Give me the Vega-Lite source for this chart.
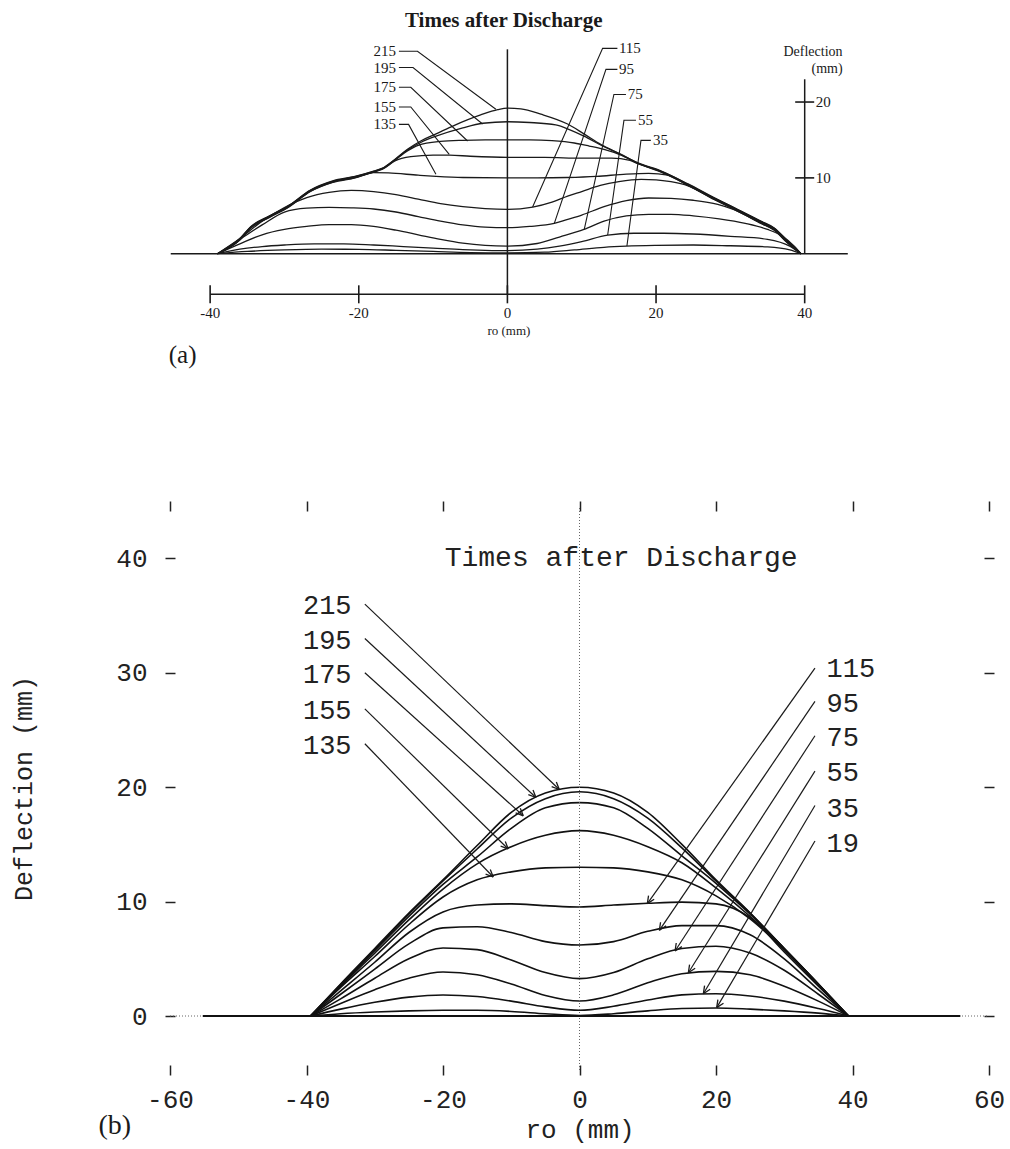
{
"$schema": "https://vega.github.io/schema/vega-lite/v6.json",
"background": "white",
"padding": {"left": 11, "top": 5, "right": 5, "bottom": 3},
"bounds": "flush",
"spacing": 135,
"config": {"view": {"stroke": "transparent"}, "font": "Liberation Mono"},
"datasets": {
"a_rules": [
{"x": -45.3, "y": 0, "ex": 45.8, "ey": 0},
{"x": 0, "y": -5.35, "ex": 0, "ey": 26.95},
{"x": -40, "y": -5.35, "ex": 40, "ey": -5.35},
{"x": 40, "y": 0, "ex": 40, "ey": 23.0}
],
"a_xticks": [
{"x": -40, "y": -5.35, "label": "-40"},
{"x": -20, "y": -5.35, "label": "-20"},
{"x": 0, "y": -5.35, "label": "0"},
{"x": 20, "y": -5.35, "label": "20"},
{"x": 40, "y": -5.35, "label": "40"}
],
"a_yticks": [
{"x": 40, "y": 10, "label": "10"},
{"x": 40, "y": 20, "label": "20"}
],
"a_labels": [
{"t": "215", "x": -15.0, "y": 26.7, "side": "L"},
{"t": "195", "x": -15.0, "y": 24.55, "side": "L"},
{"t": "175", "x": -15.0, "y": 21.95, "side": "L"},
{"t": "155", "x": -15.0, "y": 19.35, "side": "L"},
{"t": "135", "x": -15.0, "y": 17.05, "side": "L"},
{"t": "115", "x": 15.0, "y": 27.08, "side": "R"},
{"t": "95", "x": 15.0, "y": 24.31, "side": "R"},
{"t": "75", "x": 16.2, "y": 21.0, "side": "R"},
{"t": "55", "x": 17.56, "y": 17.59, "side": "R"},
{"t": "35", "x": 19.58, "y": 14.95, "side": "R"}
],
"a_leaders": [
{"t": "215", "k": 0, "x": -14.6, "y": 26.7}, {"t": "215", "k": 1, "x": -12.1, "y": 26.7}, {"t": "215", "k": 2, "x": -1.55, "y": 19.04},
{"t": "195", "k": 0, "x": -14.6, "y": 24.55}, {"t": "195", "k": 1, "x": -12.7, "y": 24.55}, {"t": "195", "k": 2, "x": -3.34, "y": 17.1},
{"t": "175", "k": 0, "x": -14.6, "y": 21.95}, {"t": "175", "k": 1, "x": -13.0, "y": 21.95}, {"t": "175", "k": 2, "x": -5.36, "y": 14.86},
{"t": "155", "k": 0, "x": -14.6, "y": 19.35}, {"t": "155", "k": 1, "x": -13.0, "y": 19.35}, {"t": "155", "k": 2, "x": -7.83, "y": 13.1},
{"t": "135", "k": 0, "x": -14.6, "y": 17.05}, {"t": "135", "k": 1, "x": -13.3, "y": 17.05}, {"t": "135", "k": 2, "x": -9.62, "y": 10.47},
{"t": "115", "k": 0, "x": 14.8, "y": 27.08}, {"t": "115", "k": 1, "x": 12.81, "y": 27.08}, {"t": "115", "k": 2, "x": 3.39, "y": 6.16},
{"t": "95", "k": 0, "x": 14.8, "y": 24.31}, {"t": "95", "k": 1, "x": 13.26, "y": 24.31}, {"t": "95", "k": 2, "x": 6.3, "y": 3.96},
{"t": "75", "k": 0, "x": 15.95, "y": 21.0}, {"t": "75", "k": 1, "x": 14.33, "y": 21.0}, {"t": "75", "k": 2, "x": 10.34, "y": 3.22},
{"t": "55", "k": 0, "x": 17.3, "y": 17.59}, {"t": "55", "k": 1, "x": 15.68, "y": 17.59}, {"t": "55", "k": 2, "x": 13.49, "y": 2.47},
{"t": "35", "k": 0, "x": 19.3, "y": 14.95}, {"t": "35", "k": 1, "x": 17.97, "y": 14.95}, {"t": "35", "k": 2, "x": 16.08, "y": 1.02}
],
"a_curves": [
{"t":"215","x":-39,"y":0},{"t":"215","x":-36,"y":2.0},{"t":"215","x":-34.5,"y":3.6},{"t":"215","x":-32,"y":5.0},{"t":"215","x":-29.5,"y":6.3},{"t":"215","x":-26.5,"y":8.4},{"t":"215","x":-23.5,"y":9.6},{"t":"215","x":-20.5,"y":10.2},{"t":"215","x":-18,"y":10.9},{"t":"215","x":-16.8,"y":11.3},{"t":"215","x":-15.2,"y":12.4},{"t":"215","x":-13.4,"y":13.8},{"t":"215","x":-11.6,"y":14.9},{"t":"215","x":-9.6,"y":15.8},{"t":"215","x":-7.2,"y":16.9},{"t":"215","x":-3.6,"y":18.3},{"t":"215","x":-1.3,"y":19.0},{"t":"215","x":0,"y":19.2},{"t":"215","x":1.8,"y":19.1},{"t":"215","x":4.5,"y":18.4},{"t":"215","x":8.1,"y":17.1},{"t":"215","x":10.3,"y":15.8},{"t":"215","x":12.6,"y":14.4},{"t":"215","x":15.3,"y":13.1},{"t":"215","x":17.5,"y":12.0},{"t":"215","x":20.7,"y":10.9},{"t":"215","x":24.3,"y":9.2},{"t":"215","x":27.8,"y":7.4},{"t":"215","x":30.5,"y":6.1},{"t":"215","x":34.1,"y":4.3},{"t":"215","x":35.9,"y":3.4},{"t":"215","x":37.7,"y":1.7},{"t":"215","x":39.5,"y":0},
{"t":"195","x":-39,"y":0},{"t":"195","x":-36,"y":1.95},{"t":"195","x":-34.5,"y":3.55},{"t":"195","x":-32,"y":4.95},{"t":"195","x":-29.5,"y":6.25},{"t":"195","x":-26.5,"y":8.35},{"t":"195","x":-23.5,"y":9.55},{"t":"195","x":-20.5,"y":10.15},{"t":"195","x":-18,"y":10.85},{"t":"195","x":-16.8,"y":11.25},{"t":"195","x":-15.2,"y":12.35},{"t":"195","x":-13.4,"y":13.7},{"t":"195","x":-11.6,"y":14.7},{"t":"195","x":-9.6,"y":15.5},{"t":"195","x":-6,"y":16.6},{"t":"195","x":-3.3,"y":17.2},{"t":"195","x":0,"y":17.4},{"t":"195","x":3,"y":17.3},{"t":"195","x":6.5,"y":17.0},{"t":"195","x":8.5,"y":16.3},{"t":"195","x":10.3,"y":15.5},{"t":"195","x":12.6,"y":14.3},{"t":"195","x":15.3,"y":13.05},{"t":"195","x":17.5,"y":11.95},{"t":"195","x":20.7,"y":10.85},{"t":"195","x":24.3,"y":9.15},{"t":"195","x":27.8,"y":7.35},{"t":"195","x":30.5,"y":6.05},{"t":"195","x":34.1,"y":4.25},{"t":"195","x":35.9,"y":3.35},{"t":"195","x":37.7,"y":1.65},{"t":"195","x":39.5,"y":0},
{"t":"175","x":-39,"y":0},{"t":"175","x":-36,"y":1.9},{"t":"175","x":-34.5,"y":3.5},{"t":"175","x":-32,"y":4.9},{"t":"175","x":-29.5,"y":6.2},{"t":"175","x":-26.5,"y":8.3},{"t":"175","x":-23.5,"y":9.5},{"t":"175","x":-20.5,"y":10.1},{"t":"175","x":-18,"y":10.8},{"t":"175","x":-16.8,"y":11.2},{"t":"175","x":-15.2,"y":12.3},{"t":"175","x":-13.4,"y":13.6},{"t":"175","x":-12,"y":14.3},{"t":"175","x":-9,"y":14.8},{"t":"175","x":-6,"y":14.95},{"t":"175","x":-3,"y":15.0},{"t":"175","x":0,"y":15.0},{"t":"175","x":3,"y":15.0},{"t":"175","x":6,"y":14.9},{"t":"175","x":9,"y":14.6},{"t":"175","x":11,"y":14.2},{"t":"175","x":13,"y":13.75},{"t":"175","x":15.3,"y":13.0},{"t":"175","x":17.5,"y":11.95},{"t":"175","x":20.7,"y":10.8},{"t":"175","x":24.3,"y":9.1},{"t":"175","x":27.8,"y":7.3},{"t":"175","x":30.5,"y":6.0},{"t":"175","x":34.1,"y":4.2},{"t":"175","x":35.9,"y":3.3},{"t":"175","x":37.7,"y":1.6},{"t":"175","x":39.5,"y":0},
{"t":"155","x":-39,"y":0},{"t":"155","x":-36,"y":1.85},{"t":"155","x":-34.5,"y":3.45},{"t":"155","x":-32,"y":4.85},{"t":"155","x":-29.5,"y":6.15},{"t":"155","x":-26.5,"y":8.25},{"t":"155","x":-23.5,"y":9.45},{"t":"155","x":-20.5,"y":10.05},{"t":"155","x":-18,"y":10.75},{"t":"155","x":-16.8,"y":11.15},{"t":"155","x":-15.2,"y":12.2},{"t":"155","x":-13,"y":12.8},{"t":"155","x":-10,"y":13.0},{"t":"155","x":-7.8,"y":13.0},{"t":"155","x":-5,"y":12.85},{"t":"155","x":0,"y":12.7},{"t":"155","x":5,"y":12.7},{"t":"155","x":10,"y":12.6},{"t":"155","x":14,"y":12.6},{"t":"155","x":16.5,"y":12.3},{"t":"155","x":17.5,"y":11.9},{"t":"155","x":20.7,"y":10.75},{"t":"155","x":24.3,"y":9.05},{"t":"155","x":27.8,"y":7.25},{"t":"155","x":30.5,"y":5.95},{"t":"155","x":34.1,"y":4.15},{"t":"155","x":35.9,"y":3.25},{"t":"155","x":37.7,"y":1.55},{"t":"155","x":39.5,"y":0},
{"t":"135","x":-39,"y":0},{"t":"135","x":-36,"y":1.8},{"t":"135","x":-34.5,"y":3.4},{"t":"135","x":-32,"y":4.8},{"t":"135","x":-29.5,"y":6.1},{"t":"135","x":-26.5,"y":8.2},{"t":"135","x":-23.5,"y":9.4},{"t":"135","x":-20.5,"y":10.0},{"t":"135","x":-18,"y":10.7},{"t":"135","x":-16,"y":10.65},{"t":"135","x":-12,"y":10.35},{"t":"135","x":-9.6,"y":10.2},{"t":"135","x":-6,"y":10.05},{"t":"135","x":0,"y":10.0},{"t":"135","x":4,"y":10.0},{"t":"135","x":8,"y":10.05},{"t":"135","x":12,"y":10.2},{"t":"135","x":16,"y":10.5},{"t":"135","x":19,"y":10.6},{"t":"135","x":21.6,"y":10.35},{"t":"135","x":24.3,"y":9.0},{"t":"135","x":27.8,"y":7.2},{"t":"135","x":30.5,"y":5.9},{"t":"135","x":34.1,"y":4.1},{"t":"135","x":35.9,"y":3.2},{"t":"135","x":37.7,"y":1.5},{"t":"135","x":39.5,"y":0},
{"t":"115","x":-39,"y":0},{"t":"115","x":-36,"y":2.0},{"t":"115","x":-33,"y":4.3},{"t":"115","x":-30,"y":6.1},{"t":"115","x":-27,"y":7.4},{"t":"115","x":-24,"y":8.1},{"t":"115","x":-21,"y":8.35},{"t":"115","x":-18,"y":8.2},{"t":"115","x":-15,"y":7.8},{"t":"115","x":-12,"y":7.2},{"t":"115","x":-9,"y":6.6},{"t":"115","x":-6,"y":6.2},{"t":"115","x":-3,"y":5.95},{"t":"115","x":0,"y":5.85},{"t":"115","x":3.4,"y":6.15},{"t":"115","x":6,"y":6.8},{"t":"115","x":8.1,"y":7.6},{"t":"115","x":10,"y":8.2},{"t":"115","x":12.5,"y":9.0},{"t":"115","x":15,"y":9.5},{"t":"115","x":18,"y":9.8},{"t":"115","x":20,"y":9.75},{"t":"115","x":22,"y":9.5},{"t":"115","x":24.3,"y":8.95},{"t":"115","x":27.8,"y":7.15},{"t":"115","x":30.5,"y":5.85},{"t":"115","x":34.1,"y":4.05},{"t":"115","x":35.9,"y":3.15},{"t":"115","x":37.7,"y":1.45},{"t":"115","x":39.5,"y":0},
{"t":"95","x":-39,"y":0},{"t":"95","x":-36.3,"y":1.7},{"t":"95","x":-33,"y":3.8},{"t":"95","x":-30,"y":5.5},{"t":"95","x":-27,"y":6.0},{"t":"95","x":-24,"y":6.1},{"t":"95","x":-21,"y":6.05},{"t":"95","x":-18,"y":5.9},{"t":"95","x":-15,"y":5.5},{"t":"95","x":-12,"y":4.9},{"t":"95","x":-9,"y":4.3},{"t":"95","x":-6,"y":3.8},{"t":"95","x":-3,"y":3.5},{"t":"95","x":0,"y":3.43},{"t":"95","x":3,"y":3.6},{"t":"95","x":6.3,"y":4.0},{"t":"95","x":8,"y":4.5},{"t":"95","x":10,"y":5.1},{"t":"95","x":13,"y":6.2},{"t":"95","x":16,"y":7.0},{"t":"95","x":19,"y":7.35},{"t":"95","x":22,"y":7.3},{"t":"95","x":25,"y":7.05},{"t":"95","x":28.3,"y":6.5},{"t":"95","x":30.5,"y":5.8},{"t":"95","x":34.1,"y":4.0},{"t":"95","x":35.9,"y":3.1},{"t":"95","x":37.7,"y":1.4},{"t":"95","x":39.5,"y":0},
{"t":"75","x":-39,"y":0},{"t":"75","x":-36,"y":1.3},{"t":"75","x":-33,"y":2.5},{"t":"75","x":-30,"y":3.2},{"t":"75","x":-27,"y":3.6},{"t":"75","x":-24,"y":3.85},{"t":"75","x":-21,"y":3.85},{"t":"75","x":-18,"y":3.6},{"t":"75","x":-15,"y":3.1},{"t":"75","x":-12,"y":2.5},{"t":"75","x":-9,"y":1.9},{"t":"75","x":-6,"y":1.4},{"t":"75","x":-3,"y":1.1},{"t":"75","x":0,"y":1.0},{"t":"75","x":4,"y":1.35},{"t":"75","x":7,"y":2.2},{"t":"75","x":10.3,"y":3.2},{"t":"75","x":13,"y":4.3},{"t":"75","x":16,"y":5.0},{"t":"75","x":19,"y":5.2},{"t":"75","x":22,"y":5.2},{"t":"75","x":25,"y":5.0},{"t":"75","x":28.5,"y":4.6},{"t":"75","x":32,"y":4.0},{"t":"75","x":35,"y":3.2},{"t":"75","x":37,"y":2.3},{"t":"75","x":38.6,"y":1.0},{"t":"75","x":39.5,"y":0},
{"t":"55","x":-39,"y":0},{"t":"55","x":-36,"y":0.6},{"t":"55","x":-33,"y":0.95},{"t":"55","x":-30,"y":1.15},{"t":"55","x":-26,"y":1.3},{"t":"55","x":-22,"y":1.3},{"t":"55","x":-18,"y":1.15},{"t":"55","x":-14,"y":0.95},{"t":"55","x":-10,"y":0.75},{"t":"55","x":-6,"y":0.55},{"t":"55","x":-3,"y":0.45},{"t":"55","x":0,"y":0.4},{"t":"55","x":4,"y":0.6},{"t":"55","x":7,"y":1.0},{"t":"55","x":10,"y":1.6},{"t":"55","x":13.5,"y":2.45},{"t":"55","x":17,"y":2.7},{"t":"55","x":21,"y":2.7},{"t":"55","x":25,"y":2.6},{"t":"55","x":30,"y":2.3},{"t":"55","x":35,"y":1.9},{"t":"55","x":38,"y":1.0},{"t":"55","x":39.5,"y":0},
{"t":"35","x":-39,"y":0},{"t":"35","x":-35,"y":0.3},{"t":"35","x":-30,"y":0.5},{"t":"35","x":-25,"y":0.6},{"t":"35","x":-20,"y":0.58},{"t":"35","x":-15,"y":0.45},{"t":"35","x":-10,"y":0.3},{"t":"35","x":-5,"y":0.15},{"t":"35","x":0,"y":0.1},{"t":"35","x":5,"y":0.2},{"t":"35","x":9,"y":0.5},{"t":"35","x":13,"y":0.85},{"t":"35","x":16,"y":1.0},{"t":"35","x":20,"y":1.1},{"t":"35","x":25,"y":1.15},{"t":"35","x":30,"y":1.05},{"t":"35","x":35,"y":0.9},{"t":"35","x":38,"y":0.5},{"t":"35","x":39.5,"y":0}
],
"b_curves": [
{"t":"19","x":-39.4,"y":0},{"t":"19","x":-35,"y":0.2},{"t":"19","x":-30,"y":0.35},{"t":"19","x":-25,"y":0.45},{"t":"19","x":-20,"y":0.5},{"t":"19","x":-15,"y":0.5},{"t":"19","x":-10,"y":0.4},{"t":"19","x":-5,"y":0.2},{"t":"19","x":0,"y":0.05},{"t":"19","x":5,"y":0.2},{"t":"19","x":10,"y":0.45},{"t":"19","x":15,"y":0.65},{"t":"19","x":20,"y":0.7},{"t":"19","x":25,"y":0.6},{"t":"19","x":30,"y":0.45},{"t":"19","x":35,"y":0.25},{"t":"19","x":39.4,"y":0},
{"t":"35","x":-39.4,"y":0},{"t":"35","x":-35,"y":0.6},{"t":"35","x":-30,"y":1.2},{"t":"35","x":-25,"y":1.65},{"t":"35","x":-20,"y":1.84},{"t":"35","x":-15,"y":1.7},{"t":"35","x":-10,"y":1.3},{"t":"35","x":-5,"y":0.8},{"t":"35","x":0,"y":0.5},{"t":"35","x":5,"y":0.85},{"t":"35","x":10,"y":1.4},{"t":"35","x":15,"y":1.85},{"t":"35","x":20,"y":1.95},{"t":"35","x":25,"y":1.75},{"t":"35","x":30,"y":1.3},{"t":"35","x":35,"y":0.65},{"t":"35","x":39.4,"y":0},
{"t":"55","x":-39.4,"y":0},{"t":"55","x":-35,"y":1.1},{"t":"55","x":-30,"y":2.3},{"t":"55","x":-25,"y":3.3},{"t":"55","x":-20,"y":3.85},{"t":"55","x":-15,"y":3.6},{"t":"55","x":-10,"y":2.8},{"t":"55","x":-5,"y":1.8},{"t":"55","x":0,"y":1.31},{"t":"55","x":5,"y":1.85},{"t":"55","x":10,"y":2.9},{"t":"55","x":15,"y":3.7},{"t":"55","x":20,"y":3.9},{"t":"55","x":25,"y":3.6},{"t":"55","x":30,"y":2.6},{"t":"55","x":35,"y":1.3},{"t":"55","x":39.4,"y":0},
{"t":"75","x":-39.4,"y":0},{"t":"75","x":-35,"y":1.5},{"t":"75","x":-30,"y":3.3},{"t":"75","x":-25,"y":5.0},{"t":"75","x":-20,"y":5.95},{"t":"75","x":-15,"y":5.8},{"t":"75","x":-10,"y":4.9},{"t":"75","x":-5,"y":3.8},{"t":"75","x":0,"y":3.27},{"t":"75","x":5,"y":3.8},{"t":"75","x":10,"y":5.0},{"t":"75","x":15,"y":5.9},{"t":"75","x":20,"y":6.1},{"t":"75","x":25,"y":5.5},{"t":"75","x":30,"y":4.0},{"t":"75","x":35,"y":1.9},{"t":"75","x":39.4,"y":0},
{"t":"95","x":-39.4,"y":0},{"t":"95","x":-35,"y":1.9},{"t":"95","x":-30,"y":4.1},{"t":"95","x":-25,"y":6.3},{"t":"95","x":-20,"y":7.7},{"t":"95","x":-15,"y":7.8},{"t":"95","x":-10,"y":7.3},{"t":"95","x":-5,"y":6.5},{"t":"95","x":0,"y":6.2},{"t":"95","x":5,"y":6.5},{"t":"95","x":10,"y":7.4},{"t":"95","x":15,"y":7.9},{"t":"95","x":20,"y":7.9},{"t":"95","x":25,"y":7.1},{"t":"95","x":30,"y":5.0},{"t":"95","x":35,"y":2.3},{"t":"95","x":39.4,"y":0},
{"t":"115","x":-39.4,"y":0},{"t":"115","x":-35,"y":2.2},{"t":"115","x":-30,"y":4.7},{"t":"115","x":-25,"y":7.3},{"t":"115","x":-20,"y":9.1},{"t":"115","x":-15,"y":9.7},{"t":"115","x":-10,"y":9.8},{"t":"115","x":-5,"y":9.65},{"t":"115","x":0,"y":9.53},{"t":"115","x":5,"y":9.7},{"t":"115","x":10,"y":9.85},{"t":"115","x":15,"y":9.95},{"t":"115","x":20,"y":9.8},{"t":"115","x":25,"y":8.6},{"t":"115","x":30,"y":5.6},{"t":"115","x":35,"y":2.6},{"t":"115","x":39.4,"y":0},
{"t":"135","x":-39.4,"y":0},{"t":"135","x":-35,"y":2.5},{"t":"135","x":-30,"y":5.2},{"t":"135","x":-25,"y":8.0},{"t":"135","x":-20,"y":10.4},{"t":"135","x":-15,"y":11.9},{"t":"135","x":-10,"y":12.6},{"t":"135","x":-5,"y":12.95},{"t":"135","x":0,"y":13.0},{"t":"135","x":5,"y":12.95},{"t":"135","x":10,"y":12.6},{"t":"135","x":15,"y":11.9},{"t":"135","x":20,"y":10.5},{"t":"135","x":25,"y":8.5},{"t":"135","x":30,"y":5.8},{"t":"135","x":35,"y":2.7},{"t":"135","x":39.4,"y":0},
{"t":"155","x":-39.4,"y":0},{"t":"155","x":-35,"y":2.6},{"t":"155","x":-30,"y":5.5},{"t":"155","x":-25,"y":8.4},{"t":"155","x":-20,"y":11.1},{"t":"155","x":-15,"y":13.3},{"t":"155","x":-10,"y":14.8},{"t":"155","x":-5,"y":15.8},{"t":"155","x":0,"y":16.2},{"t":"155","x":5,"y":15.8},{"t":"155","x":10,"y":14.8},{"t":"155","x":15,"y":13.4},{"t":"155","x":20,"y":11.2},{"t":"155","x":25,"y":8.7},{"t":"155","x":30,"y":5.85},{"t":"155","x":35,"y":2.75},{"t":"155","x":39.4,"y":0},
{"t":"175","x":-39.4,"y":0},{"t":"175","x":-35,"y":2.7},{"t":"175","x":-30,"y":5.7},{"t":"175","x":-25,"y":8.7},{"t":"175","x":-20,"y":11.5},{"t":"175","x":-15,"y":13.9},{"t":"175","x":-10,"y":16.4},{"t":"175","x":-5,"y":18.2},{"t":"175","x":0,"y":18.65},{"t":"175","x":5,"y":18.2},{"t":"175","x":10,"y":16.4},{"t":"175","x":15,"y":14.0},{"t":"175","x":20,"y":11.6},{"t":"175","x":25,"y":8.9},{"t":"175","x":30,"y":5.9},{"t":"175","x":35,"y":2.8},{"t":"175","x":39.4,"y":0},
{"t":"195","x":-39.4,"y":0},{"t":"195","x":-35,"y":2.75},{"t":"195","x":-30,"y":5.8},{"t":"195","x":-25,"y":8.9},{"t":"195","x":-20,"y":11.8},{"t":"195","x":-15,"y":14.6},{"t":"195","x":-10,"y":17.3},{"t":"195","x":-5,"y":19.0},{"t":"195","x":0,"y":19.6},{"t":"195","x":5,"y":19.0},{"t":"195","x":10,"y":17.3},{"t":"195","x":15,"y":14.7},{"t":"195","x":20,"y":11.8},{"t":"195","x":25,"y":9.0},{"t":"195","x":30,"y":5.9},{"t":"195","x":35,"y":2.8},{"t":"195","x":39.4,"y":0},
{"t":"215","x":-39.4,"y":0},{"t":"215","x":-35,"y":2.8},{"t":"215","x":-30,"y":5.9},{"t":"215","x":-25,"y":9.0},{"t":"215","x":-20,"y":11.9},{"t":"215","x":-15,"y":14.9},{"t":"215","x":-10,"y":17.8},{"t":"215","x":-5,"y":19.5},{"t":"215","x":0,"y":20.0},{"t":"215","x":5,"y":19.5},{"t":"215","x":10,"y":17.8},{"t":"215","x":15,"y":15.0},{"t":"215","x":20,"y":11.9},{"t":"215","x":25,"y":9.0},{"t":"215","x":30,"y":5.9},{"t":"215","x":35,"y":2.8},{"t":"215","x":39.4,"y":0}
],
"b_refs": [
{"x": 0, "y": -4.72, "ex": 0, "ey": 44.58},
{"x": -60, "y": 0, "ex": 60, "ey": 0}
],
"b_base": [
{"x": -55.2, "y": 0, "ex": 55.8, "ey": 0}
],
"b_arrows": [
{"t":"215","x":-31.45,"y":36.0,"ex":-2.96,"ey":19.8,"side":"L"},
{"t":"195","x":-31.45,"y":33.0,"ex":-6.38,"ey":19.1,"side":"L"},
{"t":"175","x":-31.45,"y":30.0,"ex":-8.24,"ey":17.5,"side":"L"},
{"t":"155","x":-31.45,"y":26.85,"ex":-10.44,"ey":14.6,"side":"L"},
{"t":"135","x":-31.45,"y":23.8,"ex":-12.64,"ey":12.15,"side":"L"},
{"t":"115","x":34.5,"y":30.4,"ex":9.94,"ey":9.82,"side":"R"},
{"t":"95","x":34.5,"y":27.5,"ex":11.7,"ey":7.49,"side":"R"},
{"t":"75","x":34.5,"y":24.5,"ex":14.0,"ey":5.68,"side":"R"},
{"t":"55","x":34.5,"y":21.4,"ex":15.95,"ey":3.78,"side":"R"},
{"t":"35","x":34.5,"y":18.4,"ex":18.15,"ey":1.95,"side":"R"},
{"t":"19","x":34.5,"y":15.3,"ex":20.1,"ey":0.73,"side":"R"}
],
"b_labels": [
{"t":"215","x":-33.4,"y":35.8,"side":"L"},
{"t":"195","x":-33.4,"y":32.8,"side":"L"},
{"t":"175","x":-33.4,"y":29.8,"side":"L"},
{"t":"155","x":-33.4,"y":26.7,"side":"L"},
{"t":"135","x":-33.4,"y":23.6,"side":"L"},
{"t":"115","x":36.2,"y":30.3,"side":"R"},
{"t":"95","x":36.2,"y":27.3,"side":"R"},
{"t":"75","x":36.2,"y":24.3,"side":"R"},
{"t":"55","x":36.2,"y":21.2,"side":"R"},
{"t":"35","x":36.2,"y":18.1,"side":"R"},
{"t":"19","x":36.2,"y":15.0,"side":"R"}
]
},
"vconcat": [
{
"width": 819,
"height": 365,
"encoding": {
"x": {"field": "x", "type": "quantitative", "scale": {"domain": [-45.4, 64.8], "nice": false, "zero": false}, "axis": null},
"y": {"field": "y", "type": "quantitative", "scale": {"domain": [-15.46, 32.66], "nice": false, "zero": false}, "axis": null}
},
"layer": [
{"data": {"name": "a_rules"}, "mark": {"type": "rule", "color": "#1a1a1a", "strokeWidth": 1.5}, "encoding": {"x2": {"field": "ex"}, "y2": {"field": "ey"}}},
{"data": {"name": "a_curves"}, "mark": {"type": "line", "interpolate": "monotone", "color": "#1a1a1a", "strokeWidth": 1.3}, "encoding": {"detail": {"field": "t"}}},
{"data": {"name": "a_leaders"}, "mark": {"type": "line", "color": "#1a1a1a", "strokeWidth": 1.1}, "encoding": {"detail": {"field": "t"}, "order": {"field": "k", "type": "quantitative"}}},
{"data": {"name": "a_xticks"}, "mark": {"type": "tick", "orient": "vertical", "size": 18, "thickness": 1.6, "color": "#1a1a1a", "opacity": 1}},
{"data": {"name": "a_xticks"}, "mark": {"type": "text", "dy": 19, "font": "Liberation Serif", "fontSize": 15, "color": "#1a1a1a"}, "encoding": {"text": {"field": "label"}}},
{"data": {"name": "a_yticks"}, "mark": {"type": "tick", "orient": "horizontal", "size": 19, "thickness": 1.6, "color": "#1a1a1a", "opacity": 1}},
{"data": {"name": "a_yticks"}, "mark": {"type": "text", "align": "left", "dx": 11, "font": "Liberation Serif", "fontSize": 15, "color": "#1a1a1a"}, "encoding": {"text": {"field": "label"}}},
{"data": {"name": "a_labels"}, "transform": [{"filter": "datum.side == 'L'"}], "mark": {"type": "text", "align": "right", "baseline": "middle", "font": "Liberation Serif", "fontSize": 15, "color": "#1a1a1a"}, "encoding": {"text": {"field": "t"}}},
{"data": {"name": "a_labels"}, "transform": [{"filter": "datum.side == 'R'"}], "mark": {"type": "text", "align": "left", "baseline": "middle", "font": "Liberation Serif", "fontSize": 15, "color": "#1a1a1a"}, "encoding": {"text": {"field": "t"}}},
{"data": {"values": [{"x": -0.5, "y": 30.7, "label": "Times after Discharge"}]}, "mark": {"type": "text", "font": "Liberation Serif", "fontSize": 21, "fontWeight": "bold", "color": "#1a1a1a"}, "encoding": {"text": {"field": "label"}}},
{"data": {"values": [{"x": 45.1, "y": 26.6, "label": "Deflection"}, {"x": 45.1, "y": 24.35, "label": "(mm)"}]}, "mark": {"type": "text", "align": "right", "font": "Liberation Serif", "fontSize": 14, "color": "#1a1a1a"}, "encoding": {"text": {"field": "label"}}},
{"data": {"values": [{"x": 0.2, "y": -10.2, "label": "ro (mm)"}]}, "mark": {"type": "text", "font": "Liberation Serif", "fontSize": 13, "color": "#1a1a1a"}, "encoding": {"text": {"field": "label"}}},
{"data": {"values": [{"x": -43.7, "y": -13.4, "label": "(a)"}]}, "mark": {"type": "text", "font": "Liberation Serif", "fontSize": 25, "color": "#1a1a1a"}, "encoding": {"text": {"field": "label"}}}
]
},
{
"width": 819,
"height": 564,
"resolve": {"axis": {"x": "independent", "y": "independent"}},
"layer": [
{"data": {"name": "b_curves"}, "mark": {"type": "line", "interpolate": "monotone", "color": "#111111", "strokeWidth": 1.6},
 "encoding": {
  "x": {"field": "x", "type": "quantitative", "scale": {"domain": [-60, 60], "nice": false, "zero": false},
    "axis": {"orient": "bottom", "values": [-60, -40, -20, 0, 20, 40, 60], "offset": -5, "tickSize": 10, "tickWidth": 1.5, "tickColor": "#222222", "domain": false, "grid": false, "labelFont": "Liberation Mono", "labelFontSize": 26, "labelColor": "#222222", "labelPadding": 11, "labelFlush": false, "labelOverlap": false, "labelExpr": "datum.value < 0 ? '-' + abs(datum.value) : '' + datum.value", "title": "ro (mm)", "titleFont": "Liberation Mono", "titleFontSize": 26, "titleFontWeight": "normal", "titleColor": "#222222", "titlePadding": 4}},
  "y": {"field": "y", "type": "quantitative", "scale": {"domain": [-4.72, 44.58], "nice": false, "zero": false},
    "axis": {"orient": "left", "values": [0, 10, 20, 30, 40], "offset": -5, "tickSize": 10, "tickWidth": 1.5, "tickColor": "#222222", "domain": false, "grid": false, "labelFont": "Liberation Mono", "labelFontSize": 26, "labelColor": "#222222", "labelPadding": 18, "labelFlush": false, "labelOverlap": false, "title": "Deflection (mm)", "titleFont": "Liberation Mono", "titleFontSize": 25, "titleFontWeight": "normal", "titleColor": "#222222", "titlePadding": 79}},
  "detail": {"field": "t"}
 }},
{"data": {"name": "b_refs"}, "mark": {"type": "rule", "color": "#666666", "strokeWidth": 1, "strokeDash": [1, 2]},
 "encoding": {
  "x": {"field": "x", "type": "quantitative", "scale": {"domain": [-60, 60], "nice": false, "zero": false},
    "axis": {"orient": "top", "values": [-60, -40, -20, 0, 20, 40, 60], "offset": -5, "tickSize": 10, "tickWidth": 1.5, "tickColor": "#222222", "domain": false, "grid": false, "labels": false, "title": null}},
  "y": {"field": "y", "type": "quantitative", "scale": {"domain": [-4.72, 44.58], "nice": false, "zero": false},
    "axis": {"orient": "right", "values": [0, 10, 20, 30, 40], "offset": -5, "tickSize": 10, "tickWidth": 1.5, "tickColor": "#222222", "domain": false, "grid": false, "labels": false, "title": null}},
  "x2": {"field": "ex"}, "y2": {"field": "ey"}
 }},
{"data": {"name": "b_base"}, "mark": {"type": "rule", "color": "#111111", "strokeWidth": 2},
 "encoding": {
  "x": {"field": "x", "type": "quantitative", "scale": {"domain": [-60, 60], "nice": false, "zero": false}, "axis": null},
  "y": {"field": "y", "type": "quantitative", "scale": {"domain": [-4.72, 44.58], "nice": false, "zero": false}, "axis": null},
  "x2": {"field": "ex"}, "y2": {"field": "ey"}
 }},
{"data": {"name": "b_arrows"}, "mark": {"type": "rule", "color": "#1a1a1a", "strokeWidth": 1.2},
 "encoding": {
  "x": {"field": "x", "type": "quantitative", "scale": {"domain": [-60, 60], "nice": false, "zero": false}, "axis": null},
  "y": {"field": "y", "type": "quantitative", "scale": {"domain": [-4.72, 44.58], "nice": false, "zero": false}, "axis": null},
  "x2": {"field": "ex"}, "y2": {"field": "ey"}
 }},
{"data": {"name": "b_arrows"}, "transform": [{"filter": "datum.side == 'L'"}], "mark": {"type": "point", "shape": "M0,0L-0.45,-1M0,0L0.45,-1", "filled": false, "angle": 314.5, "size": 220, "strokeWidth": 1.3, "color": "#1a1a1a", "opacity": 1},
 "encoding": {
  "x": {"field": "ex", "type": "quantitative", "scale": {"domain": [-60, 60], "nice": false, "zero": false}, "axis": null},
  "y": {"field": "ey", "type": "quantitative", "scale": {"domain": [-4.72, 44.58], "nice": false, "zero": false}, "axis": null}
 }},
{"data": {"name": "b_arrows"}, "transform": [{"filter": "datum.side == 'R'"}], "mark": {"type": "point", "shape": "M0,0L-0.45,-1M0,0L0.45,-1", "filled": false, "angle": 32.7, "size": 220, "strokeWidth": 1.3, "color": "#1a1a1a", "opacity": 1},
 "encoding": {
  "x": {"field": "ex", "type": "quantitative", "scale": {"domain": [-60, 60], "nice": false, "zero": false}, "axis": null},
  "y": {"field": "ey", "type": "quantitative", "scale": {"domain": [-4.72, 44.58], "nice": false, "zero": false}, "axis": null}
 }},
{"data": {"name": "b_labels"}, "transform": [{"filter": "datum.side == 'L'"}], "mark": {"type": "text", "align": "right", "baseline": "middle", "font": "Liberation Mono", "fontSize": 27, "color": "#222222"},
 "encoding": {
  "x": {"field": "x", "type": "quantitative", "scale": {"domain": [-60, 60], "nice": false, "zero": false}, "axis": null},
  "y": {"field": "y", "type": "quantitative", "scale": {"domain": [-4.72, 44.58], "nice": false, "zero": false}, "axis": null},
  "text": {"field": "t"}
 }},
{"data": {"name": "b_labels"}, "transform": [{"filter": "datum.side == 'R'"}], "mark": {"type": "text", "align": "left", "baseline": "middle", "font": "Liberation Mono", "fontSize": 27, "color": "#222222"},
 "encoding": {
  "x": {"field": "x", "type": "quantitative", "scale": {"domain": [-60, 60], "nice": false, "zero": false}, "axis": null},
  "y": {"field": "y", "type": "quantitative", "scale": {"domain": [-4.72, 44.58], "nice": false, "zero": false}, "axis": null},
  "text": {"field": "t"}
 }},
{"data": {"values": [{"x": 6.1, "y": 40.0, "label": "Times after Discharge"}]}, "mark": {"type": "text", "baseline": "middle", "font": "Liberation Mono", "fontSize": 28, "color": "#222222"},
 "encoding": {
  "x": {"field": "x", "type": "quantitative", "scale": {"domain": [-60, 60], "nice": false, "zero": false}, "axis": null},
  "y": {"field": "y", "type": "quantitative", "scale": {"domain": [-4.72, 44.58], "nice": false, "zero": false}, "axis": null},
  "text": {"field": "label"}
 }},
{"data": {"values": [{"x": -68.1, "y": -9.6, "label": "(b)"}]}, "mark": {"type": "text", "baseline": "middle", "font": "Liberation Serif", "fontSize": 28, "color": "#1a1a1a"},
 "encoding": {
  "x": {"field": "x", "type": "quantitative", "scale": {"domain": [-60, 60], "nice": false, "zero": false}, "axis": null},
  "y": {"field": "y", "type": "quantitative", "scale": {"domain": [-4.72, 44.58], "nice": false, "zero": false}, "axis": null},
  "text": {"field": "label"}
 }}
]
}
]
}
